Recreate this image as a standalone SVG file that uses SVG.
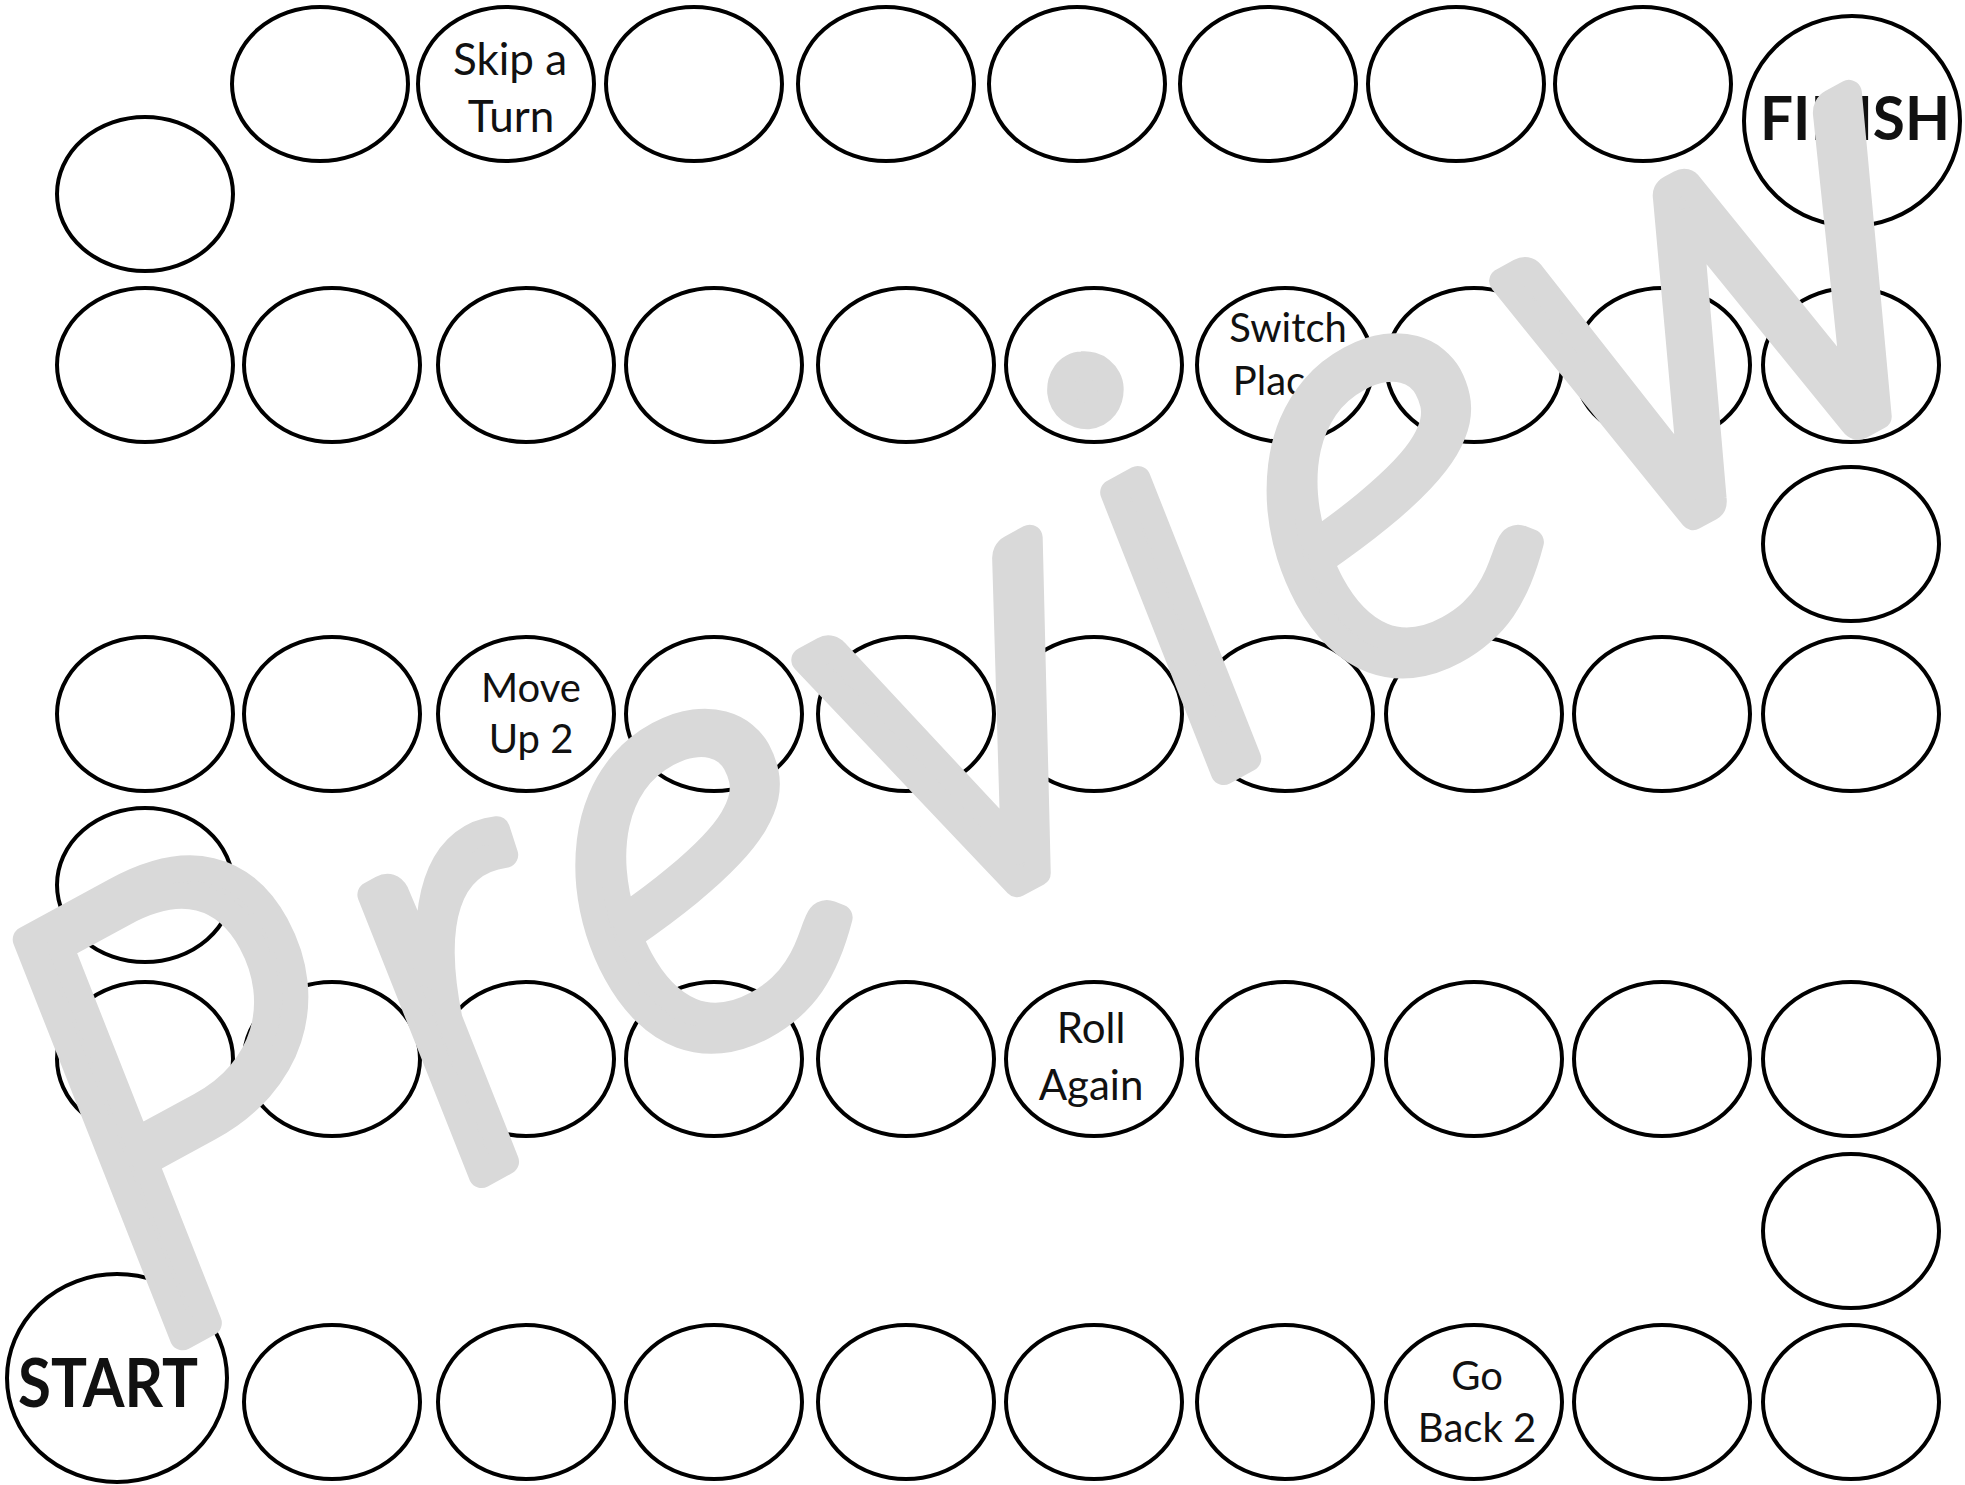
<svg xmlns="http://www.w3.org/2000/svg" width="1965" height="1485" viewBox="0 0 1965 1485">
<defs>
<style>
.sp{fill:#fff;stroke:#000;stroke-width:4}
.lb{font-family:Lato,"Noto Sans","Liberation Sans",sans-serif;fill:#111;text-anchor:middle}
.big{font-family:Lato,"Noto Sans","Liberation Sans",sans-serif;fill:#111;font-weight:700}
.wm{font-family:Lato,"Noto Sans","Liberation Sans",sans-serif;fill:#d9d9d9;stroke:#d9d9d9;stroke-width:26;stroke-linejoin:round;stroke-linecap:round;font-style:italic;font-weight:300}
</style>
</defs>
<rect width="1965" height="1485" fill="#fff"/>
<g id="connectors"></g>
<!-- Row 1 -->
<g id="r1c1"><ellipse class="sp" cx="320" cy="84" rx="88" ry="77"/></g>
<g id="skip-a-turn"><ellipse class="sp" cx="506" cy="84" rx="88" ry="77"/><text class="lb" x="510" y="75" font-size="44">Skip a</text><text class="lb" x="511" y="132" font-size="44">Turn</text></g>
<g id="r1c3"><ellipse class="sp" cx="694" cy="84" rx="88" ry="77"/></g>
<g id="r1c4"><ellipse class="sp" cx="886" cy="84" rx="88" ry="77"/></g>
<g id="r1c5"><ellipse class="sp" cx="1077" cy="84" rx="88" ry="77"/></g>
<g id="r1c6"><ellipse class="sp" cx="1268" cy="84" rx="88" ry="77"/></g>
<g id="r1c7"><ellipse class="sp" cx="1456" cy="84" rx="88" ry="77"/></g>
<g id="r1c8"><ellipse class="sp" cx="1643" cy="84" rx="88" ry="77"/></g>
<g id="finish"><ellipse class="sp" cx="1852" cy="121" rx="108" ry="105"/><text class="big" x="1760" y="140" font-size="62" textLength="190" lengthAdjust="spacingAndGlyphs">FINISH</text></g>
<g id="left1"><ellipse class="sp" cx="145" cy="194" rx="88" ry="77"/></g>
<!-- Row 2 -->
<g id="r2c1"><ellipse class="sp" cx="145" cy="365" rx="88" ry="77"/></g>
<g id="r2c2"><ellipse class="sp" cx="332" cy="365" rx="88" ry="77"/></g>
<g id="r2c3"><ellipse class="sp" cx="526" cy="365" rx="88" ry="77"/></g>
<g id="r2c4"><ellipse class="sp" cx="714" cy="365" rx="88" ry="77"/></g>
<g id="r2c5"><ellipse class="sp" cx="906" cy="365" rx="88" ry="77"/></g>
<g id="r2c6"><ellipse class="sp" cx="1094" cy="365" rx="88" ry="77"/></g>
<g id="switch-places"><ellipse class="sp" cx="1285" cy="365" rx="88" ry="77"/><text class="lb" x="1288" y="342" font-size="40">Switch</text><text class="lb" x="1288" y="395" font-size="40">Places</text></g>
<g id="r2c8"><ellipse class="sp" cx="1474" cy="365" rx="88" ry="77"/></g>
<g id="r2c9"><ellipse class="sp" cx="1662" cy="365" rx="88" ry="77"/></g>
<g id="r2c10"><ellipse class="sp" cx="1851" cy="365" rx="88" ry="77"/></g>
<g id="right1"><ellipse class="sp" cx="1851" cy="544" rx="88" ry="77"/></g>
<!-- Row 3 -->
<g id="r3c1"><ellipse class="sp" cx="145" cy="714" rx="88" ry="77"/></g>
<g id="r3c2"><ellipse class="sp" cx="332" cy="714" rx="88" ry="77"/></g>
<g id="move-up-2"><ellipse class="sp" cx="526" cy="714" rx="88" ry="77"/><text class="lb" x="531" y="702" font-size="40">Move</text><text class="lb" x="531" y="753" font-size="40">Up 2</text></g>
<g id="r3c4"><ellipse class="sp" cx="714" cy="714" rx="88" ry="77"/></g>
<g id="r3c5"><ellipse class="sp" cx="906" cy="714" rx="88" ry="77"/></g>
<g id="r3c6"><ellipse class="sp" cx="1094" cy="714" rx="88" ry="77"/></g>
<g id="r3c7"><ellipse class="sp" cx="1285" cy="714" rx="88" ry="77"/></g>
<g id="r3c8"><ellipse class="sp" cx="1474" cy="714" rx="88" ry="77"/></g>
<g id="r3c9"><ellipse class="sp" cx="1662" cy="714" rx="88" ry="77"/></g>
<g id="r3c10"><ellipse class="sp" cx="1851" cy="714" rx="88" ry="77"/></g>
<g id="left2"><ellipse class="sp" cx="145" cy="885" rx="88" ry="77"/></g>
<!-- Row 4 -->
<g id="r4c1"><ellipse class="sp" cx="145" cy="1059" rx="88" ry="77"/></g>
<g id="r4c2"><ellipse class="sp" cx="332" cy="1059" rx="88" ry="77"/></g>
<g id="r4c3"><ellipse class="sp" cx="526" cy="1059" rx="88" ry="77"/></g>
<g id="r4c4"><ellipse class="sp" cx="714" cy="1059" rx="88" ry="77"/></g>
<g id="r4c5"><ellipse class="sp" cx="906" cy="1059" rx="88" ry="77"/></g>
<g id="roll-again"><ellipse class="sp" cx="1094" cy="1059" rx="88" ry="77"/><text class="lb" x="1091" y="1043" font-size="42">Roll</text><text class="lb" x="1091" y="1100" font-size="42">Again</text></g>
<g id="r4c7"><ellipse class="sp" cx="1285" cy="1059" rx="88" ry="77"/></g>
<g id="r4c8"><ellipse class="sp" cx="1474" cy="1059" rx="88" ry="77"/></g>
<g id="r4c9"><ellipse class="sp" cx="1662" cy="1059" rx="88" ry="77"/></g>
<g id="r4c10"><ellipse class="sp" cx="1851" cy="1059" rx="88" ry="77"/></g>
<g id="right2"><ellipse class="sp" cx="1851" cy="1231" rx="88" ry="77"/></g>
<!-- Row 5 -->
<g id="start"><ellipse class="sp" cx="117" cy="1378" rx="110" ry="104"/><text class="big" x="18" y="1407" font-size="66" textLength="180" lengthAdjust="spacingAndGlyphs">START</text></g>
<g id="r5c2"><ellipse class="sp" cx="332" cy="1402" rx="88" ry="77"/></g>
<g id="r5c3"><ellipse class="sp" cx="526" cy="1402" rx="88" ry="77"/></g>
<g id="r5c4"><ellipse class="sp" cx="714" cy="1402" rx="88" ry="77"/></g>
<g id="r5c5"><ellipse class="sp" cx="906" cy="1402" rx="88" ry="77"/></g>
<g id="r5c6"><ellipse class="sp" cx="1094" cy="1402" rx="88" ry="77"/></g>
<g id="r5c7"><ellipse class="sp" cx="1285" cy="1402" rx="88" ry="77"/></g>
<g id="go-back-2"><ellipse class="sp" cx="1474" cy="1402" rx="88" ry="77"/><text class="lb" x="1477" y="1390" font-size="40">Go</text><text class="lb" x="1477" y="1442" font-size="40">Back 2</text></g>
<g id="r5c9"><ellipse class="sp" cx="1662" cy="1402" rx="88" ry="77"/></g>
<g id="r5c10"><ellipse class="sp" cx="1851" cy="1402" rx="88" ry="77"/></g>
<!-- watermark -->
<g id="watermark"><text class="wm" x="0" y="0" font-size="600" letter-spacing="35" transform="translate(150 1355) rotate(-28.5)">Preview</text></g>
</svg>
